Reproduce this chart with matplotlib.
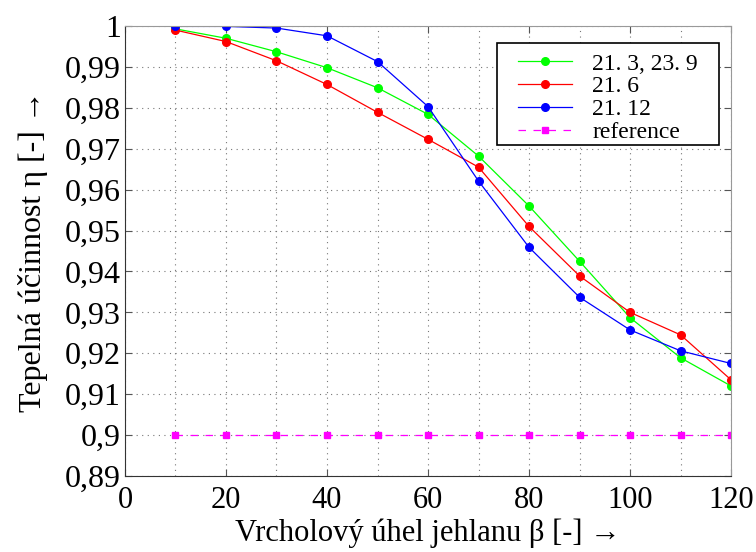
import numpy as np
from matplotlib import pyplot as plt
from matplotlib.patches import Rectangle
from matplotlib.ticker import FuncFormatter, MultipleLocator

beta = [10, 20, 30, 40, 50, 60, 70, 80, 90, 100, 110, 120]
eta_3_9 = [0.9993, 0.9970, 0.9937, 0.9898, 0.9849, 0.9784, 0.9682, 0.9560, 0.9425, 0.9287, 0.9189, 0.9120]
eta_6 = [0.9990, 0.9962, 0.9915, 0.9857, 0.9789, 0.9723, 0.9655, 0.9510, 0.9389, 0.9300, 0.9245, 0.9135]
eta_12 = [0.9999, 0.9999, 0.9995, 0.9976, 0.9913, 0.9803, 0.9621, 0.9459, 0.9337, 0.9257, 0.9206, 0.9175]
eta_ref = [0.9] * len(beta)

plt.rcParams["font.family"] = "serif"
plt.rcParams["font.serif"] = ["Liberation Serif", "DejaVu Serif"]

fig = plt.figure(figsize=(7.56, 5.52), dpi=100)
ax = fig.add_axes([0.1653, 0.1377, 0.8017, 0.8152])

ax.plot(beta, eta_3_9, color="#00ff00", lw=0.9, marker="o", ms=5.5, label="21. 3, 23. 9")
ax.plot(beta, eta_6, color="#ff0000", lw=0.9, marker="o", ms=5.5, label="21. 6")
ax.plot(beta, eta_12, color="#0000ff", lw=0.9, marker="o", ms=5.5, label="21. 12")
ax.plot(beta, eta_ref, color="#ff00ff", lw=0.9, ls=(0, (6, 6)), marker="s", ms=4.5,
        label="reference")

ax.set_xlim(0, 120)
ax.set_ylim(0.89, 1.0)
ax.xaxis.set_major_locator(MultipleLocator(20))
ax.xaxis.set_minor_locator(MultipleLocator(10))
ax.yaxis.set_major_locator(MultipleLocator(0.01))
ax.yaxis.set_major_formatter(FuncFormatter(lambda v, p: ("%g" % round(v, 2)).replace(".", ",")))

ax.grid(True, which="both", axis="x", color="#777777", ls=(0, (1, 4)), lw=0.8)
ax.grid(True, which="major", axis="y", color="#777777", ls=(0, (1, 4)), lw=0.8)
ax.tick_params(which="both", direction="in", top=True, right=True, labelsize=22,
               length=5, color="#555555")
ax.tick_params(axis="y", labelsize=23, pad=3)
ax.tick_params(which="minor", length=0)
ax.tick_params(axis="x", pad=7)
for side in ["top", "right"]:
    ax.spines[side].set_color("#999999")
ax.spines["left"].set_color("#333333")
ax.spines["bottom"].set_color("#333333")

ax.set_xlabel("Vrcholový úhel jehlanu β [-] →", fontsize=22, labelpad=3)
ax.set_ylabel("Tepelná účinnost η [-] →", fontsize=23, labelpad=12)

# legend frame drawn separately: wider side padding than top/bottom
ax.add_patch(Rectangle((0.614, 0.7356), 0.366, 0.2264, transform=ax.transAxes,
                       facecolor="white", edgecolor="black", lw=1.2, zorder=4))
leg = ax.legend(loc="upper left", bbox_to_anchor=(0.6485, 0.940), fontsize=17,
                frameon=False, handlelength=2.3, labelspacing=0.06, borderpad=0,
                borderaxespad=0, handletextpad=0.85)
leg.set_zorder(5)

fig.savefig("out.png", dpi=100)
